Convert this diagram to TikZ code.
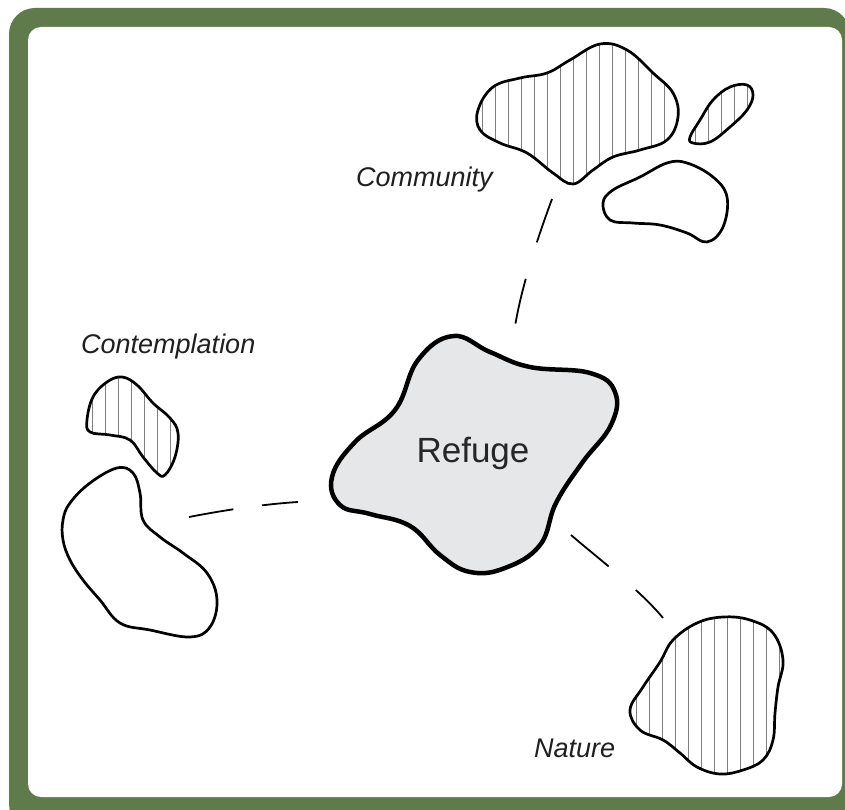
\documentclass[tikz,border=0pt]{standalone}
\usepackage{fontspec}
\setmainfont{Liberation Sans}
\definecolor{framegreen}{HTML}{5F7B4C}
\definecolor{refugefill}{HTML}{E6E7E8}
\begin{document}
\begin{tikzpicture}[x=1pt,y=-1pt,
  hatchline/.style={draw=black!50, line width=1pt},
  blob/.style={line width=2.7pt, line join=round, fill=white},
  hatched/.style={blob, path picture={\foreach \i in {0,...,20}{\draw[hatchline] ([xshift=\i*13pt+7pt]path picture bounding box.south west) -- ([xshift=\i*13pt+7pt]path picture bounding box.north west);}}},
  link/.style={line width=1.8pt, line cap=butt},
  lbl/.style={font=\itshape\fontsize{27}{30}\selectfont, text=black!88, inner sep=0pt}
]
\useasboundingbox (0,0) rectangle (845,810);
% frame
\begin{scope}
\clip (0,0) rectangle (845,810);
\fill[framegreen, rounded corners=26pt] (9,8) rectangle (850,830);
\fill[white, rounded corners=13pt] (28,27) rectangle (842,797);
\end{scope}

% connector end points
\coordinate (comA) at (552,199);
\coordinate (comB) at (514,333);
\coordinate (conA) at (189,517);
\coordinate (conB) at (298,502);
\coordinate (natA) at (571,535);
\coordinate (natB) at (663,618);

\draw[link, dash pattern=on 46pt off 38pt] (comA) .. controls (538,237) and (520,290) .. (comB);
\draw[link, dash pattern=on 45pt off 29pt] (conA) .. controls (225,510) and (265,504) .. (conB);
\draw[link, dash pattern=on 49pt off 36pt] (natA) .. controls (600,560) and (640,590) .. (natB);

% community blobs
\draw[hatched] plot[smooth cycle, tension=0.65] coordinates {
 (478,110) (493,87) (520,78) (547,73) (570,60) (600,44) (627,50) (653,73) (673,93)
 (678,117) (667,140) (640,150) (613,157) (593,170) (573,184) (553,173) (527,153) (500,143) (480,130)};
\draw[hatched] plot[smooth cycle, tension=0.65] coordinates {
 (690,137) (700,120) (713,100) (730,87) (747,85) (753,95) (747,110) (730,127) (710,142) (693,143)};
\draw[blob] plot[smooth cycle, tension=0.65] coordinates {
 (603,203) (613,190) (640,177) (667,163) (687,163) (713,177) (727,197) (723,227)
 (707,242) (687,233) (660,225) (633,223) (610,220)};

% contemplation blobs
\draw[hatched] plot[smooth cycle, tension=0.65] coordinates {
 (87,420) (93,397) (107,382) (122,377) (137,385) (153,403) (170,418) (178,433)
 (175,457) (165,475) (157,473) (143,457) (130,440) (110,435) (90,432)};
\draw[blob] plot[smooth cycle, tension=0.65] coordinates {
 (63,520) (70,503) (90,483) (117,468) (133,473) (140,493) (143,520) (160,537)
 (183,553) (207,573) (217,600) (210,627) (190,637) (150,630) (120,623) (100,600)
 (83,580) (70,560) (63,540)};

% nature blob
\draw[hatched] plot[smooth cycle, tension=0.65] coordinates {
 (630,710) (643,687) (660,662) (673,640) (697,623) (723,617) (750,620) (773,633)
 (783,660) (778,687) (775,713) (773,740) (763,760) (743,770) (720,774) (697,767)
 (680,753) (663,740) (640,730)};

% refuge
\draw[line width=4.5pt, line join=round, fill=refugefill] plot[smooth cycle, tension=0.7] coordinates {
 (453,336) (490,352) (530,367) (590,373) (615,392) (611,425) (582,463) (556,503)
 (540,545) (505,568) (470,572) (440,555) (410,526) (370,514) (340,505) (332,477)
 (355,442) (395,410) (418,360)};
\node[text=black!85, font=\fontsize{35}{40}\selectfont] (refuge) at (473,453) {Refuge};

% labels
\node[lbl, anchor=base west] (community) at (356,187) {Community};
\node[lbl, anchor=base west] (contemplation) at (81,353) {Contemplation};
\node[lbl, anchor=base west] (nature) at (534,757) {Nature};
\end{tikzpicture}
\end{document}
